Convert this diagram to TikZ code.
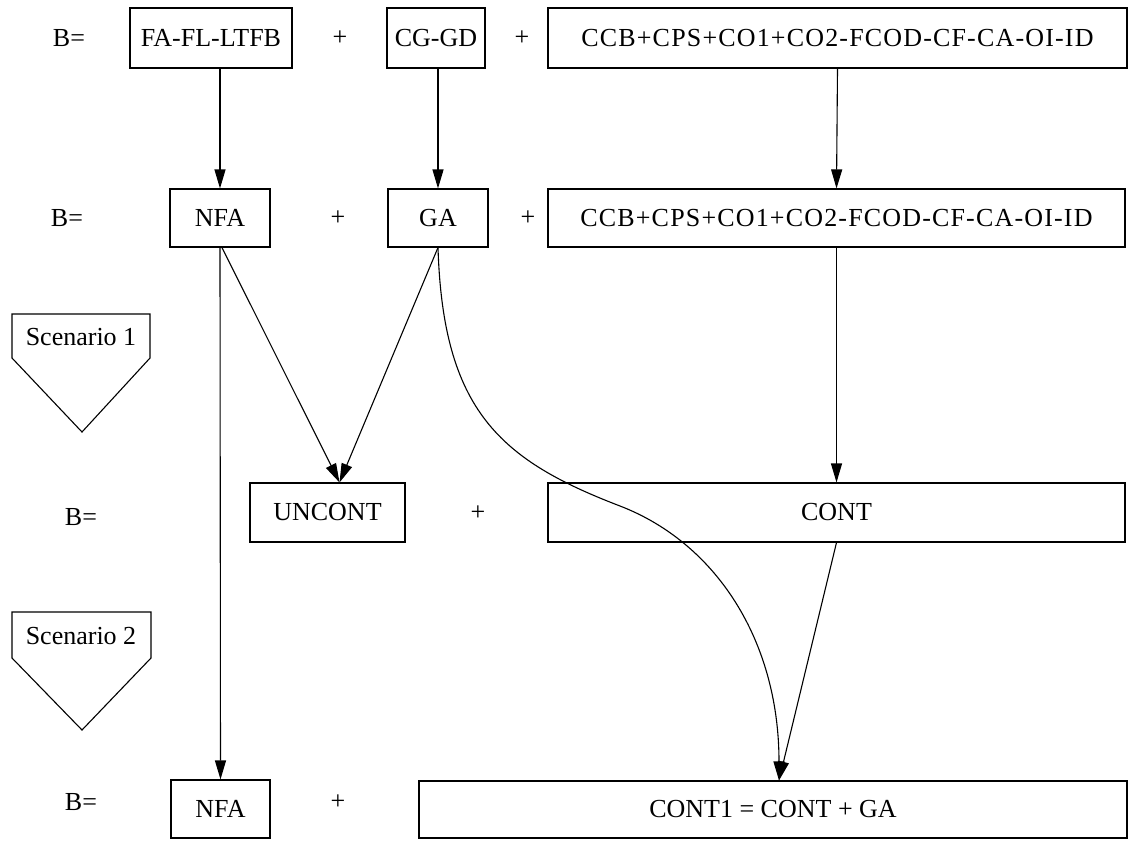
\documentclass[tikz,border=0pt]{standalone}
\usepackage{fontspec}
\setmainfont{Liberation Serif}
\usetikzlibrary{arrows.meta}
\begin{document}
\begin{tikzpicture}[x=1pt,y=-1pt,
  box/.style={draw, line width=1.1pt, inner sep=0pt, anchor=center},
  lbl/.style={inner sep=0pt, anchor=center},
  wide/.style={font=\fontsize{26}{30}\selectfont\addfontfeature{LetterSpace=4.5}},
  arr/.style={draw, line width=1.1pt, -{Triangle[length=19pt,width=11pt]}},
  scen/.style={draw, line width=1.1pt, line join=miter},
  font=\fontsize{26}{30}\selectfont]
\useasboundingbox (0,0) rectangle (1131,840);

% row 1
\node[lbl] (b1) at (69,38) {B=};
\node[box, minimum width=162pt, minimum height=60pt] (fa) at (211,38) {FA-FL-LTFB};
\node[lbl] (p11) at (340,38) {+};
\node[box, minimum width=98pt, minimum height=60pt] (cg) at (436,38) {CG-GD};
\node[lbl] (p12) at (522,38) {+};
\node[box, wide, minimum width=579pt, minimum height=60pt] (r1) at (837.5,38) {CCB+CPS+CO1+CO2-FCOD-CF-CA-OI-ID};

% row 2
\node[lbl] (b2) at (67,218) {B=};
\node[box, minimum width=100pt, minimum height=58pt] (nfa) at (220,218) {NFA};
\node[lbl] (p21) at (338,218) {+};
\node[box, minimum width=100pt, minimum height=58pt] (ga) at (438,218) {GA};
\node[lbl] (p22) at (528,218) {+};
\node[box, wide, minimum width=577pt, minimum height=58pt] (r2) at (836.5,218) {CCB+CPS+CO1+CO2-FCOD-CF-CA-OI-ID};

% row 3
\node[lbl] (b3) at (81,517) {B=};
\node[box, minimum width=155pt, minimum height=59pt] (unc) at (327.5,512.5) {UNCONT};
\node[lbl] (p31) at (478,513) {+};
\node[box, minimum width=577pt, minimum height=59pt] (cont) at (836.5,512.5) {CONT};

% row 4
\node[lbl] (b4) at (81,802) {B=};
\node[box, minimum width=99pt, minimum height=58pt] (nfa2) at (220.5,809) {NFA};
\node[lbl] (p41) at (338,802) {+};
\node[box, minimum width=708pt, minimum height=57pt] (cont1) at (773,809.5) {CONT1 = CONT + GA};

% scenario markers
\node[lbl] (s1) at (81,337) {Scenario 1};
\draw[scen] (12,314) -- (150,314) -- (150,358) -- (82,432) -- (12,358) -- cycle;
\node[lbl] (s2) at (81,636) {Scenario 2};
\draw[scen] (12,612) -- (151,612) -- (151,658) -- (82,730) -- (12,658) -- cycle;

% helper points
\coordinate (ut) at ([xshift=12pt]unc.north);
\coordinate (ct) at ([xshift=6pt]cont1.north);
\coordinate (bend) at (620,506);

% connectors
\draw[arr] (nfa.north |- fa.south) -- (nfa.north);
\draw[arr] (ga.north |- cg.south) -- (ga.north);
\draw[arr] (r1.south) -- (r2.north);
\draw[arr] ([xshift=2pt]nfa.south) -- (ut);
\draw[arr] (ga.south) -- (ut);
\draw[arr] (r2.south) -- (cont.north);
\draw[arr] (nfa.south) -- (nfa2.north);
\draw[arr] (cont.south) -- (ct);
\draw[arr] (ga.south) .. controls +(5,163) and +(-120,-46) .. (bend)
  .. controls +(96,37) and +(0,-140) .. (ct);
\end{tikzpicture}
\end{document}
